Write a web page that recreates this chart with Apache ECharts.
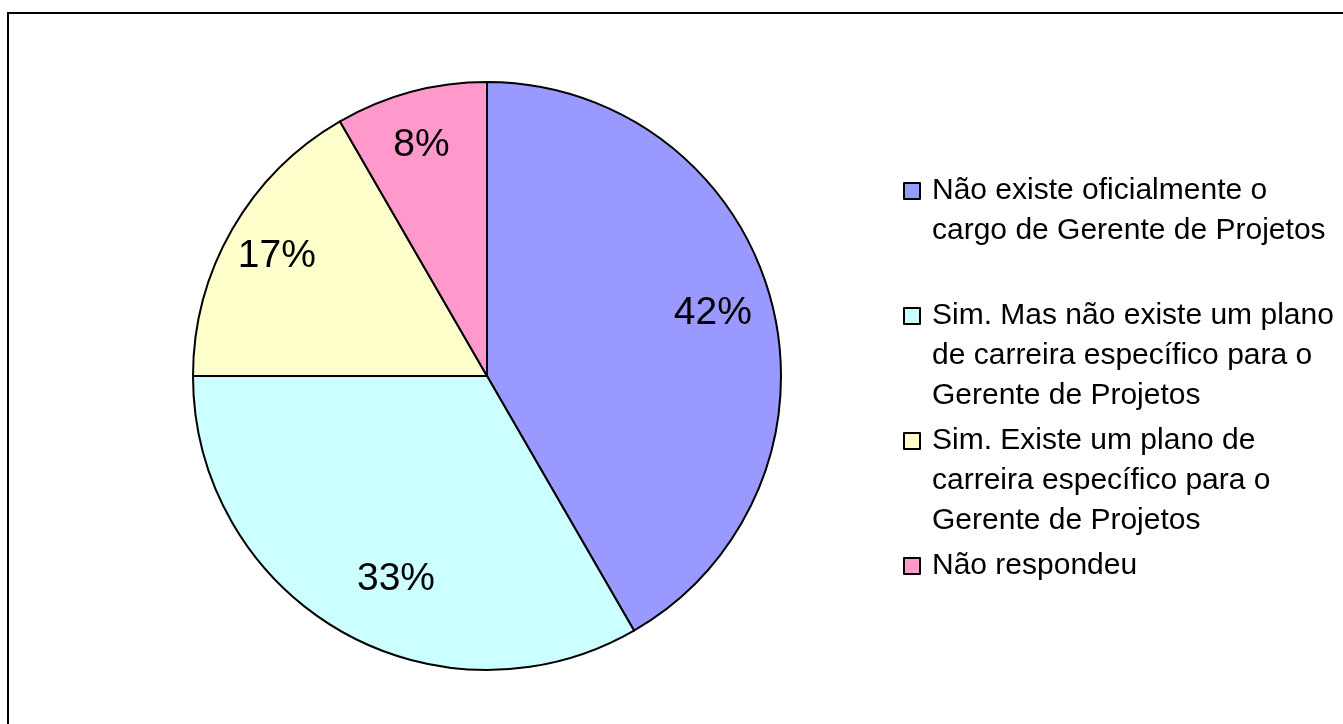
<!DOCTYPE html>
<html>
<head>
<meta charset="utf-8">
<title>Gerente de Projetos</title>
<script src="https://cdn.jsdelivr.net/npm/echarts@6/dist/echarts.min.js"></script>
<style>
  html, body { margin: 0; padding: 0; background: #fff; }
  #chart { width: 1343px; height: 724px; }
</style>
</head>
<body>
<div id="chart"></div>
<script>
const categories = [
  'Não existe oficialmente o cargo de Gerente de Projetos',
  'Sim. Mas não existe um plano de carreira específico para o Gerente de Projetos',
  'Sim. Existe um plano de carreira específico para o Gerente de Projetos',
  'Não respondeu'
]
// respostas (12 no total)
const values = [5, 4, 2, 1]
const colors = ['#9999FF', '#CCFFFF', '#FFFFCC', '#FF99CC']
// quebras de linha da legenda
const legendLines = [
  ['Não existe oficialmente o', 'cargo de Gerente de Projetos'],
  ['Sim. Mas não existe um plano', 'de carreira específico para o', 'Gerente de Projetos'],
  ['Sim. Existe um plano de', 'carreira específico para o', 'Gerente de Projetos'],
  ['Não respondeu']
]

const chart = echarts.init(document.getElementById('chart'))

const FONT = '"Liberation Sans", Arial, sans-serif'
const LINE = 40
const legendTops = [131, 216, 341, 546]

// the text block is centred on the icon, so pad it with empty lines on top
// to keep the icon next to the first line
function legendText(lines) {
  const pad = new Array(lines.length - 1).fill('{e|}')
  return pad.concat(lines.map(l => '{t|' + l + '}')).join('\n')
}

const legends = categories.map((name, i) => ({
  data: [name],
  orient: 'vertical',
  left: 903,
  top: legendTops[i],
  padding: 0,
  selectedMode: false,
  icon: 'rect',
  itemWidth: 16,
  itemHeight: 16,
  itemGap: 0,
  itemStyle: { borderColor: '#000', borderWidth: 2 },
  formatter: () => legendText(legendLines[i]),
  textStyle: {
    fontFamily: FONT,
    fontSize: 30,
    color: '#000',
    lineHeight: LINE,
    rich: {
      t: { fontFamily: FONT, fontSize: 30, color: '#000', lineHeight: LINE, padding: [0, 0, 0, 7] },
      e: { fontFamily: FONT, fontSize: 30, lineHeight: LINE }
    }
  }
}))

const pieData = categories.map((name, i) => ({
  name,
  value: values[i],
  itemStyle: { color: colors[i] }
}))

const option = {
  backgroundColor: '#fff',
  animation: false,
  legend: legends,
  graphic: [{
    type: 'rect',
    shape: { x: 8, y: 13, width: 1400, height: 800 },
    style: { fill: 'none', stroke: '#000', lineWidth: 2 },
    silent: true
  }],
  series: [
    {
      type: 'pie',
      center: [487, 376],
      radius: [0, 294],
      startAngle: 90,
      clockwise: true,
      silent: true,
      label: { show: false },
      labelLine: { show: false },
      itemStyle: { borderColor: '#000', borderWidth: 2 },
      data: pieData
    },
    {
      // percent labels at ~80% of the radius
      type: 'pie',
      center: [487, 376],
      radius: [176, 294],
      startAngle: 90,
      clockwise: true,
      silent: true,
      z: 3,
      itemStyle: { color: 'rgba(0,0,0,0)', borderWidth: 0 },
      labelLine: { show: false },
      label: {
        show: true,
        position: 'inside',
        fontFamily: FONT,
        fontSize: 39,
        color: '#000',
        formatter: p => Math.round(p.percent) + '%'
      },
      data: categories.map((name, i) => ({
        name,
        value: values[i],
        label: i === 1 ? { offset: [28, -3] } : { offset: [-4, -1] }
      }))
    }
  ]
}

chart.setOption(option)
window.addEventListener('resize', () => chart.resize())
</script>
</body>
</html>
